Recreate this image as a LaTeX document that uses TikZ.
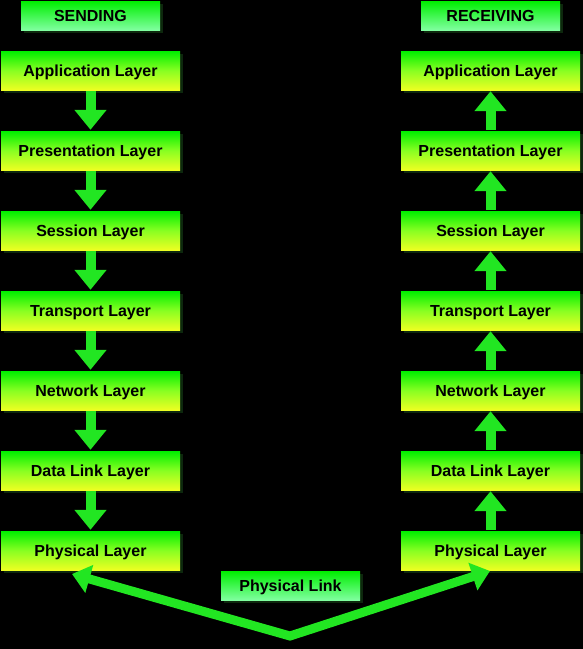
\documentclass[tikz,border=0pt]{standalone}
\usepackage{fontspec}
\setmainfont{Liberation Sans}
\usetikzlibrary{arrows.meta,calc,shadows}
\definecolor{lgreen}{HTML}{00EE00}
\definecolor{lyellow}{HTML}{EEFF22}
\definecolor{lmid}{HTML}{88FF22}
\definecolor{mint}{HTML}{80FFA0}
\definecolor{agreen}{HTML}{22E622}
\definecolor{shadowgreen}{HTML}{1E5A1E}
\newcommand{\lowtext}[1]{\raisebox{-6pt}[0pt][0pt]{#1}}
\begin{document}
\begin{tikzpicture}[x=1pt,y=-1pt,
  layerbox/.style={rectangle,minimum width=179pt,minimum height=39pt,inner sep=0pt,
    top color=lgreen,bottom color=lyellow,middle color=lmid,
    font=\fontsize{16}{19}\selectfont\bfseries,text=black,
    drop shadow={shadow xshift=3pt,shadow yshift=-3pt,fill=shadowgreen,opacity=0.45}},
  titlebox/.style={rectangle,minimum width=139pt,minimum height=29pt,inner sep=0pt,
    shade,shading=axis,top color=lgreen,middle color=mint,bottom color=mint,
    font=\fontsize{16}{19}\selectfont\bfseries,text=black,
    drop shadow={shadow xshift=3pt,shadow yshift=-3pt,fill=shadowgreen,opacity=0.45}},
  flowarrow/.style={draw=agreen,line width=10pt,-{Triangle[width=31pt,length=20pt]}},
  linkarrow/.style={draw=agreen,line width=9pt,line join=miter,
    {Triangle[width=28pt,length=18pt]}-{Triangle[width=28pt,length=18pt]}}
]
\useasboundingbox[fill=black] (0,0) rectangle (583,649);
\node[titlebox] (send) at (90.5,15.5) {\lowtext{SENDING}};
\node[titlebox] (recv) at (490.5,15.5) {\lowtext{RECEIVING}};
\foreach \n/\t [count=\k from 0] in {app/Application Layer,pres/Presentation Layer,sess/Session Layer,trans/Transport Layer,net/Network Layer,dl/Data Link Layer,phys/Physical Layer}{
  \node[layerbox] (L\n) at (90.5,{70.5+80*\k}) {\lowtext{\t}};
  \node[layerbox] (R\n) at (490.5,{70.5+80*\k}) {\lowtext{\t}};
}
\foreach \a/\b in {app/pres,pres/sess,sess/trans,trans/net,net/dl,dl/phys}{
  \draw[flowarrow] ([yshift=-1pt]L\a.south) -- ([yshift=1pt]L\b.north);
  \draw[flowarrow] ([yshift=1pt]R\b.north) -- ([yshift=-1pt]R\a.south);
}
\node[titlebox] (link) at (290.5,585.5) {\lowtext{Physical Link}};
\coordinate (v) at (290,636);
\coordinate (tl) at (72,574);
\coordinate (tr) at (490,571);
\draw[linkarrow] (tl) -- (v) -- (tr);
\end{tikzpicture}
\end{document}
